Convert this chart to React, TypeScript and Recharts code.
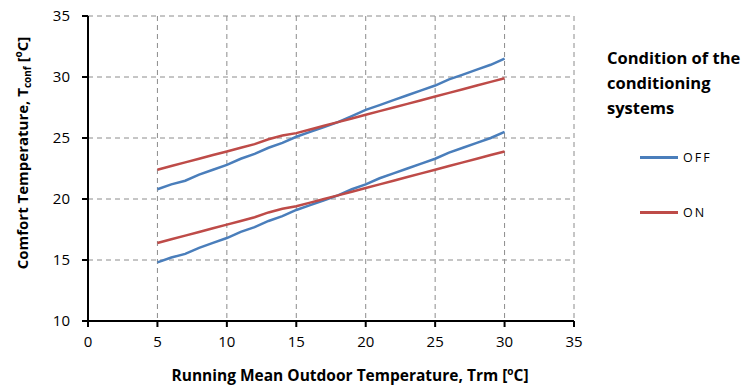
import React from "react";
import { LineChart, Line, XAxis, YAxis, CartesianGrid, Legend } from "recharts";

// outdoor running mean temperature (x) and comfort temperatures
const trm = [5, 6, 7, 8, 9, 10, 11, 12, 13, 14, 15, 16, 17, 18, 19, 20, 21, 22, 23, 24, 25, 26, 27, 28, 29, 30];
const offUpper = [20.8, 21.2, 21.5, 22.0, 22.4, 22.8, 23.3, 23.7, 24.2, 24.6, 25.1, 25.5, 25.9, 26.3, 26.8, 27.3, 27.7, 28.1, 28.5, 28.9, 29.3, 29.8, 30.2, 30.6, 31.0, 31.5];
const offLower = [14.8, 15.2, 15.5, 16.0, 16.4, 16.8, 17.3, 17.7, 18.2, 18.6, 19.1, 19.5, 19.9, 20.3, 20.8, 21.2, 21.7, 22.1, 22.5, 22.9, 23.3, 23.8, 24.2, 24.6, 25.0, 25.5];
const onUpper = [22.4, 22.7, 23.0, 23.3, 23.6, 23.9, 24.2, 24.5, 24.9, 25.2, 25.4, 25.7, 26.0, 26.3, 26.6, 26.9, 27.2, 27.5, 27.8, 28.1, 28.4, 28.7, 29.0, 29.3, 29.6, 29.9];
const onLower = [16.4, 16.7, 17.0, 17.3, 17.6, 17.9, 18.2, 18.5, 18.9, 19.2, 19.4, 19.7, 20.0, 20.3, 20.6, 20.9, 21.2, 21.5, 21.8, 22.1, 22.4, 22.7, 23.0, 23.3, 23.6, 23.9];
const xTicks = [0, 5, 10, 15, 20, 25, 30, 35];
const yTicks = [10, 15, 20, 25, 30, 35];

const data = trm.map((x, i) => ({
  x,
  offUpper: offUpper[i],
  offLower: offLower[i],
  onUpper: onUpper[i],
  onLower: onLower[i],
}));

const FONT = "'Open Sans', sans-serif";
const BLUE = "#4a7ebb";
const RED = "#be4b48";
const tickStyle = { fontSize: 15, fill: "#000", fontFamily: FONT };

const XLabel = () => (
  <text x={350} y={381} textAnchor="middle" fontFamily={FONT} fontSize={15.5} fontWeight={700} fill="#000">
    Running Mean Outdoor Temperature, Trm [
    <tspan fontSize={10} dy={-6}>o</tspan>
    <tspan dy={6}>C]</tspan>
  </text>
);

const YLabel = () => (
  <text
    x={0}
    y={0}
    transform="translate(28,153) rotate(-90)"
    textAnchor="middle"
    fontFamily={FONT}
    fontSize={15}
    fontWeight={700}
    fill="#000"
  >
    Comfort Temperature, T
    <tspan fontSize={10} dy={3}>conf</tspan>
    <tspan dy={-3}> [</tspan>
    <tspan fontSize={10} dy={-6}>o</tspan>
    <tspan dy={6}>C]</tspan>
  </text>
);

const LegendBox = (props: any) => {
  const items = (props.payload || []).filter((p: any) => p.type !== "none");
  return (
    <div style={{ fontFamily: FONT, color: "#000" }}>
      <div style={{ fontWeight: 700, fontSize: 16.5, lineHeight: "25px", marginBottom: 10, whiteSpace: "nowrap" }}>
        Condition of the
        <br />
        conditioning
        <br />
        systems
      </div>
      {items.map((p: any) => (
        <div key={p.value} style={{ display: "flex", alignItems: "center", height: 55, paddingLeft: 33 }}>
          <span style={{ display: "inline-block", width: 38, height: 3, background: p.color, marginRight: 5 }} />
          <span style={{ fontSize: 12.5, letterSpacing: 2 }}>{p.value}</span>
        </div>
      ))}
    </div>
  );
};

export default function App() {
  return (
    <div style={{ position: "absolute", left: 0, top: 0, background: "#fff" }}>
      <LineChart width={747} height={385} data={data} margin={{ top: 16, right: 33, left: 28, bottom: 34 }}>
        <CartesianGrid stroke="#8c8c8c" strokeDasharray="5 4" />
        <XAxis
          dataKey="x"
          type="number"
          domain={[0, 35]}
          ticks={xTicks}
          interval={0}
          tick={tickStyle}
          tickSize={6}
          tickMargin={9}
          axisLine={{ stroke: "#000", strokeWidth: 2 }}
          tickLine={{ stroke: "#000", strokeWidth: 2 }}
          height={30}
        />
        <YAxis
          type="number"
          domain={[10, 35]}
          ticks={yTicks}
          interval={0}
          tick={tickStyle}
          tickSize={6}
          tickMargin={12}
          axisLine={{ stroke: "#000", strokeWidth: 2 }}
          tickLine={{ stroke: "#000", strokeWidth: 2 }}
          width={60}
        />
        <Legend
          layout="vertical"
          align="right"
          verticalAlign="top"
          content={<LegendBox />}
          wrapperStyle={{ left: 607, top: 45, width: 140 }}
        />
        <Line dataKey="offUpper" name="OFF" stroke={BLUE} strokeWidth={2.5} dot={false} isAnimationActive={false} />
        <Line dataKey="onUpper" name="ON" stroke={RED} strokeWidth={2.5} dot={false} isAnimationActive={false} />
        <Line dataKey="offLower" name="OFF " stroke={BLUE} strokeWidth={2.5} dot={false} legendType="none" isAnimationActive={false} />
        <Line dataKey="onLower" name="ON " stroke={RED} strokeWidth={2.5} dot={false} legendType="none" isAnimationActive={false} />
        <XLabel />
        <YLabel />
      </LineChart>
    </div>
  );
}
